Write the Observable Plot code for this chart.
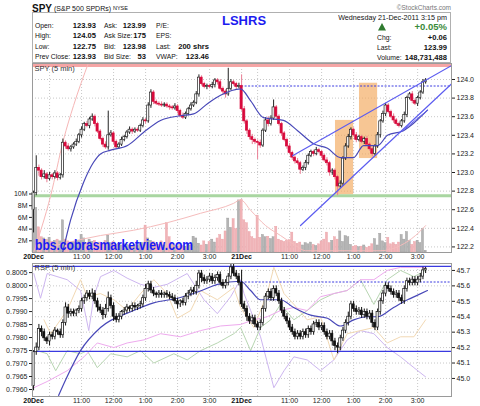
<!DOCTYPE html>
<html><head><meta charset="utf-8">
<script src="https://cdn.jsdelivr.net/npm/d3@7"></script>
<script src="https://cdn.jsdelivr.net/npm/@observablehq/plot@0.6"></script>
<style>
body{margin:0;background:#fff;}
#root{position:relative;width:480px;height:406px;overflow:hidden;background:#fff;font-family:"Liberation Sans",Arial,sans-serif;}
#root svg{position:absolute;left:0;}
</style></head><body><div id="root"></div>
<script>
// ---------- data ----------
const tickIdx = [0,18,30,42,54,66,78,96,108,120,132,144];
const tickLbl = ["20Dec","11:00","12:00","1:00","2:00","3:00","21Dec","11:00","12:00","1:00","2:00","3:00"];
const dateIdx = [0,78];
const gridIdx = [6,18,30,42,54,66,78,84,96,108,120,132,144];
const priceTicks = [122.2,122.4,122.6,122.8,123.0,123.2,123.4,123.6,123.8,124.0];
const volTicks = [2,4,6,8,10];
const rspTicks = [45.0,45.1,45.2,45.3,45.4,45.5,45.6,45.7];
const ratioTicks = [0.7960,0.7965,0.7970,0.7975,0.7980,0.7985,0.7990,0.7995,0.8000,0.8005];

const spyFirstOpen = 122.60;
const spyClose = [
122.78,123.05,123.02,122.95,122.98,122.93,122.97,122.95,122.99,122.94,
122.97,123.32,123.28,123.25,123.27,123.30,123.33,123.40,123.46,123.52,
123.50,123.57,123.60,123.52,123.44,123.36,123.30,123.27,123.40,123.42,
123.33,123.27,123.30,123.35,123.38,123.43,123.46,123.44,123.46,123.45,
123.50,123.56,123.55,123.72,123.86,123.76,123.74,123.73,123.72,123.73,
123.71,123.70,123.69,123.71,123.66,123.61,123.59,123.63,123.68,123.72,
123.75,123.84,124.02,123.95,123.92,123.93,123.92,123.94,123.99,123.97,
123.90,123.87,123.84,123.90,123.97,123.95,123.92,123.93,
123.68,123.55,123.45,123.38,123.35,123.33,123.32,123.29,123.45,123.56,
123.52,123.58,123.70,123.60,123.52,123.42,123.35,123.28,123.21,123.16,
123.12,123.10,123.03,123.05,123.10,123.18,123.22,123.20,123.24,123.22,
123.18,123.13,123.10,123.00,123.02,122.95,122.85,122.88,123.15,123.28,
123.38,123.46,123.40,123.35,123.38,123.33,123.36,123.30,123.25,123.20,
123.28,123.40,123.55,123.63,123.72,123.65,123.60,123.56,123.52,123.50,
123.55,123.62,123.80,123.84,123.77,123.74,123.80,123.86,123.97,123.99];
const spyWickUp = [
2,13,3,2,4,2,3,2,3,2, 2,4,2,3,2,2,3,2,3,2, 3,2,3,2,2,2,2,3,26,3, 2,2,2,3,2,2,3,2,2,2,
2,3,2,3,3,2,2,2,3,2, 2,2,2,3,2,2,3,2,2,3, 2,3,3,2,2,2,2,3,2,2, 3,2,2,22,3,2,2,3,
12,3,2,2,3,2,2,3,2,3, 4,3,8,2,2,2,2,2,3,2, 2,3,2,2,3,2,2,2,3,2, 2,2,3,2,2,2,2,3,2,3,
3,2,2,3,2,2,2,3,2,2, 2,3,2,3,2,2,2,3,2,2, 2,3,2,2,3,2,2,2,3,2];
const spyWickDn = [
25,3,6,3,2,4,2,3,2,3, 2,3,3,2,3,2,2,2,3,2, 2,3,2,3,2,2,3,2,3,2, 3,2,2,2,2,2,2,3,2,2,
2,2,3,2,3,3,2,2,2,2, 2,3,2,2,3,2,2,2,2,2, 2,2,3,2,2,3,2,2,3,3, 2,3,4,2,2,2,3,2,
2,3,4,3,5,3,18,3,2,2, 3,2,2,3,2,3,2,3,2,3, 3,2,5,2,3,2,2,3,2,2, 3,2,3,4,3,3,10,2,3,2,
2,3,2,3,2,2,3,2,2,3, 2,2,3,2,3,2,2,3,2,2, 2,2,3,2,3,2,3,2,2,2];
const spyVolume = [
9.5,7.6,4.3,2.6,2.4,2.2,2.5,1.8,2.0,2.2, 1.9,5.5,2.2,1.9,1.6,1.8,1.7,2.0,3.0,2.4,
1.6,2.2,1.8,2.0,1.5,1.7,1.4,2.0,2.9,1.6, 1.8,1.3,1.5,1.2,1.4,1.3,1.2,1.0,1.3,1.1,
1.4,1.6,4.6,2.4,2.0,1.8,1.5,1.3,1.9,1.2, 5.0,2.6,1.4,1.2,1.0,1.3,1.1,1.0,1.4,1.2,
2.7,2.4,1.5,1.2,1.9,1.3,1.8,2.2,1.7,2.4, 3.0,2.2,3.6,5.8,4.2,5.7,4.0,8.9,
9.0,5.5,5.0,3.5,2.6,2.3,6.3,2.5,3.0,2.6, 2.7,2.3,2.6,4.4,2.2,2.0,1.8,2.0,2.1,3.4,
1.8,1.5,1.7,1.2,1.6,1.4,1.7,1.3,1.1,1.4, 1.9,2.2,3.4,1.6,2.0,2.6,2.2,3.6,1.8,2.8,
2.6,1.3,1.0,1.1,0.9,1.0,1.2,0.8,1.0,1.4, 2.3,1.2,3.2,1.9,1.6,2.5,1.4,1.6,1.3,1.7,
3.0,2.2,3.5,2.0,1.3,1.8,2.0,1.6,4.0,0.3];
const spyMA = [[10.9,122.14],[13.9,122.49],[18.7,122.89],[22.5,123.11],[25.1,123.20],[28.9,123.24],[35.2,123.29],[41.2,123.43],[47.6,123.56],[55.1,123.61],[60,123.63],[65.2,123.74],[70.1,123.83],[77.6,123.90],[81.4,123.77],[86.2,123.59],[93.7,123.56],[99,123.45],[105,123.31],[110.2,123.26],[115.1,123.16],[120,123.16],[123.7,123.29],[129,123.29],[132.7,123.40],[138.7,123.45],[142.5,123.53],[147.7,123.67]];
const pinkOverlay = [[0,122.14],[6.4,122.75],[11.2,123.35],[15,123.72],[20.6,124.18]];
const volOverlay = [[5.2,0.85],[12.7,1.7],[25.1,2.9],[37.5,3.8],[50.2,5.1],[62.6,6.7],[75,8.4],[77.6,9.0],[81.4,7.2],[87,4.6],[92.6,2.9],[98.2,1.2],[102,0.3],[130,0.3],[137.6,1.2],[143.2,2.9],[147,4.6]];
const trendUpper = [[97.1,123.18],[156.7,124.15]];
const trendLower = [[100.1,122.43],[157,123.96]];
const trendShort = [[138.4,123.45],[147.7,123.67]];
const boxes = [{x1:113.2,x2:120,y1:122.76,y2:123.56},{x1:122.2,x2:129,y1:123.15,y2:123.96}];
const spyHighLine = 124.15, spyLowLine = 122.75, spyPrevClose = 123.93;

const rspFirstOpen = 44.95;
const rspClose = [
45.17,45.20,45.32,45.30,45.26,45.24,45.28,45.27,45.31,45.30,
45.28,45.36,45.46,45.42,45.43,45.42,45.44,45.45,45.50,45.52,
45.55,45.53,45.55,45.50,45.46,45.44,45.41,45.45,45.52,45.47,
45.40,45.38,45.40,45.43,45.44,45.46,45.45,45.47,45.46,45.47,
45.48,45.52,45.58,45.61,45.57,45.55,45.54,45.55,45.54,45.55,
45.54,45.53,45.52,45.50,45.48,45.50,45.49,45.53,45.55,45.57,
45.56,45.60,45.68,45.65,45.63,45.64,45.66,45.63,45.65,45.67,
45.62,45.60,45.62,45.66,45.72,45.68,45.66,45.62,
45.48,45.45,45.40,45.37,45.39,45.35,45.33,45.36,45.45,45.53,
45.56,45.52,45.58,45.55,45.50,45.44,45.40,45.37,45.33,45.30,
45.27,45.29,45.27,45.30,45.28,45.32,45.30,45.35,45.36,45.33,
45.34,45.30,45.27,45.29,45.24,45.21,45.20,45.26,45.31,45.36,
45.40,45.48,45.45,45.43,45.44,45.41,45.43,45.40,45.42,45.36,
45.33,45.43,45.50,45.55,45.60,45.58,45.56,45.54,45.55,45.52,
45.50,45.58,45.63,45.62,45.64,45.62,45.64,45.66,45.70,45.71];
const rspWickUp = [
1,3,3,2,2,1,2,2,2,1, 2,2,3,2,2,2,1,2,2,2, 2,2,3,2,2,2,2,3,4,2, 2,2,2,1,2,2,1,2,2,1,
2,2,3,2,2,2,1,2,2,1, 2,2,2,2,2,1,2,2,2,2, 2,3,2,2,2,2,2,2,2,2, 2,2,2,2,2,2,2,2,
8,2,2,2,2,2,2,2,2,2, 2,2,2,2,2,2,2,2,2,2, 2,2,2,2,2,2,2,2,2,2, 2,2,2,2,2,2,2,2,2,2,
3,2,2,2,2,2,2,2,2,2, 2,2,2,2,2,2,2,2,2,2, 2,2,2,2,2,2,2,2,2,1];
const rspWickDn = [
3,2,2,3,2,2,3,2,2,2, 2,2,2,3,2,2,2,2,2,2, 2,2,2,2,3,2,3,2,2,2, 3,2,2,2,2,2,2,2,2,2,
2,2,2,2,2,2,2,2,2,2, 2,2,2,2,3,2,2,2,2,2, 2,2,2,3,2,2,2,2,2,2, 2,2,2,2,2,2,2,2,
2,2,3,2,2,2,2,2,2,2, 2,2,2,2,2,2,2,2,2,2, 2,2,2,2,2,2,2,2,2,2, 2,2,2,2,3,3,4,2,2,2,
2,2,2,2,2,2,2,2,2,3, 2,2,2,2,2,2,2,2,2,2, 2,2,2,2,2,2,2,2,2,2];
const rspMA = [[9.4,44.89],[12,44.99],[17.6,45.18],[25.1,45.33],[37.5,45.44],[45,45.49],[54,45.52],[61.5,45.56],[69,45.61],[77.6,45.63],[81.4,45.57],[85.1,45.51],[92.6,45.51],[97.5,45.46],[103.9,45.41],[110.2,45.39],[115.1,45.34],[120,45.38],[125.2,45.40],[129,45.40],[135,45.46],[140.2,45.51],[144,45.54],[147.7,45.57]];
const ovPurple = [[0.1,45.68],[2.6,45.52],[5.1,45.68],[12.6,45.64],[17.6,45.57],[20.7,45.31],[22.6,45.53],[25.1,45.66],[30.1,45.70],[35.1,45.65],[40.1,45.61],[45.1,45.59],[50.1,45.61],[57.6,45.68],[63.9,45.51],[68.9,45.42],[73.9,45.53],[77.6,45.64],[78.9,45.55],[81.4,45.44],[85.1,45.27],[90.1,44.94],[93.9,45.05],[97.6,45.14],[102.6,45.12],[107.6,45.05],[112.6,45.12],[117.6,45.25],[122.6,45.31],[127.6,45.29],[132.6,45.20],[137.6,45.14],[142.6,45.07],[147,45.01]];
const ovOrange = [[3.9,45.38],[6.4,45.29],[12.6,45.44],[17.6,45.64],[20.1,45.53],[25.1,45.55],[30.1,45.51],[35.1,45.44],[40.1,45.55],[45.1,45.64],[50.1,45.55],[53.9,45.39],[58.9,45.44],[62.6,45.57],[68.9,45.51],[75.1,45.59],[77.6,45.46],[82.6,45.33],[87.6,45.55],[90.1,45.72],[93.9,45.55],[97.6,45.48],[102.6,45.38],[107.6,45.40],[112.6,45.12],[117.6,45.29],[122.6,45.31],[127.6,45.33],[132.6,45.23],[137.6,45.27],[142.6,45.27],[147,45.38]];
const ovGreen = [[1.4,45.18],[5.1,45.16],[8.3,45.05],[12.6,45.18],[17.6,45.16],[20.1,45.18],[23.9,45.07],[28.9,45.16],[35.1,45.14],[40.1,45.18],[45.1,45.10],[52.6,45.16],[57.6,45.12],[62.6,45.18],[68.9,45.23],[75.1,45.29],[77.6,45.33],[81.4,45.18],[85.1,45.33],[88.9,45.38],[92.6,45.48],[97.6,45.38],[102.6,45.44],[107.6,45.51],[112.6,45.55],[117.6,45.57],[122.6,45.64],[127.6,45.48],[132.6,45.64],[137.6,45.70],[142.6,45.66],[147,45.70]];
const ovMagenta = [[0.1,44.94],[5.1,44.98],[12.6,45.05],[18.9,45.14],[23.9,45.23],[30.1,45.20],[35.1,45.23],[41.4,45.25],[47.6,45.29],[55.1,45.27],[62.6,45.31],[70.1,45.34],[77.6,45.35],[82.6,45.38],[87.6,45.40],[92.6,45.44],[97.6,45.46],[102.6,45.44],[107.6,45.53],[112.6,45.55],[117.6,45.57],[122.6,45.64],[127.6,45.64],[132.6,45.70],[137.6,45.72],[142.6,45.72],[147,45.72]];
const rspTopLine = 45.726, rspLowLine = 45.175, rspPrevClose = 45.625;

// ---------- build ----------
const root = document.getElementById("root");
const FONT = "Liberation Sans, Arial, sans-serif";
function bars(closes, firstOpen, wu, wl, vol) {
  return closes.map((c, i) => {
    const o = i === 0 ? firstOpen : closes[i - 1];
    return {i, o, c, h: Math.max(o, c) + wu[i] / 100, l: Math.min(o, c) - wl[i] / 100, up: c >= o, v: vol ? vol[i] : 0};
  });
}
const spy = bars(spyClose, spyFirstOpen, spyWickUp, spyWickDn, spyVolume);
const rsp = bars(rspClose, rspFirstOpen, rspWickUp, rspWickDn);

const X = {domain: [-0.4, 156.7], axis: null};
const base = {width: 480, marginLeft: 32, marginRight: 29, marginTop: 0, color: {type: "identity"}};
const st = {background: "transparent", fontFamily: FONT, fontSize: "7px", color: "#222", overflow: "visible"};
function place(svg, top) { svg.style.top = top + "px"; root.appendChild(svg); }
const gridStyle = {stroke: "#c8c8c8", strokeDasharray: "1,2"};
const px = d => d[0], py = d => d[1];

// header
const hdr = d3.create("svg").attr("width", 480).attr("height", 63).style("top", "0px");
function tx(s, x, y, o = {}) {
  hdr.append("text").text(s).attr("x", x).attr("y", y).attr("dominant-baseline", "central")
    .attr("font-family", FONT).attr("font-size", o.size || 6.8).attr("font-weight", o.w || "normal")
    .attr("text-anchor", o.a || "start").attr("fill", o.f || "#111");
}
hdr.append("rect").attr("x", 32.5).attr("y", 12.5).attr("width", 418).attr("height", 50).attr("fill", "none").attr("stroke", "#b0b0b0");
const t1 = hdr.append("text").attr("x", 32).attr("y", 7.5).attr("dominant-baseline", "central").attr("font-family", FONT).attr("fill", "#111");
t1.append("tspan").text("SPY").attr("font-size", 10).attr("font-weight", "bold");
t1.append("tspan").text(" (S&P 500 SPDRs) ").attr("font-size", 7);
t1.append("tspan").text("NYSE").attr("font-size", 5.5);
tx("©StockCharts.com", 451, 7, {size: 6.5, a: "end", f: "#777"});
const rowsY = [25, 35.5, 46, 56.5];
const lab1 = ["Open:", "High:", "Low:", "Prev Close:"], val1 = ["123.93", "124.05", "122.75", "123.93"];
const lab2 = ["Ask:", "Ask Size:", "Bid:", "Bid Size:"], val2 = ["123.99", "175", "123.98", "53"];
const lab3 = ["P/E:", "EPS:", "Last:", "VWAP:"], val3 = ["", "", "200 shrs", "123.46"];
rowsY.forEach((y, k) => {
  tx(lab1[k], 35, y); tx(val1[k], 96, y, {w: "bold", size: 7.6, a: "end"});
  tx(lab2[k], 104, y); tx(val2[k], 146, y, {w: "bold", size: 7.6, a: "end"});
  tx(lab3[k], 156, y); tx(val3[k], 209, y, {w: "bold", size: 7.6, a: "end"});
});
tx("LSHRS", 222, 20.5, {size: 13, w: "bold", f: "#1c1cf0"});
tx("Wednesday  21-Dec-2011  3:15 pm", 447, 17, {size: 7.2, a: "end"});
hdr.append("path").attr("d", "M378,30.5L386,30.5L382,23Z").attr("fill", "#2f7a2f");
tx("+0.05%", 447, 26.5, {size: 9.5, w: "bold", a: "end", f: "#3a8a3a"});
tx("Chg:", 377, 37, {}); tx("+0.06", 447, 37, {w: "bold", size: 7.6, a: "end"});
tx("Last:", 377, 47, {}); tx("123.99", 447, 47, {w: "bold", size: 7.6, a: "end"});
tx("Volume:", 377, 57, {}); tx("148,731,488", 447, 57, {w: "bold", size: 7.6, a: "end"});
root.appendChild(hdr.node());

// price panel: layer A (grid + boxes)
const PH = 189, PD = [122.14, 124.172];
place(Plot.plot({...base, height: PH, marginBottom: 0, x: X, y: {domain: PD, axis: null},
  style: {...st, background: "white"},
  marks: [
    Plot.ruleY(priceTicks, gridStyle),
    Plot.ruleX(gridIdx, gridStyle),
    Plot.rect(boxes, {x1: "x1", x2: "x2", y1: "y1", y2: "y2", fill: "#f3a75a", fillOpacity: 0.65})
  ]}), 63);

// layer B (volume)
place(Plot.plot({...base, height: PH, marginBottom: 0, x: X,
  y: {domain: [0, 32.3], axis: "left", ticks: volTicks, tickFormat: d => d + "M", tickSize: 3, tickPadding: 2, label: null},
  style: st,
  marks: [
    Plot.rect(spy, {x1: d => d.i - 0.4, x2: d => d.i + 0.4, y1: 0, y2: "v", fill: d => d.up ? "#b4b4b4" : "#f0b4b8", stroke: d => d.up ? "#9a9a9a" : "#eaa0a6", strokeWidth: 0.4}),
    Plot.line(volOverlay, {x: px, y: py, stroke: "#f5bcbc", strokeWidth: 1, curve: "monotone-x", clip: true})
  ]}), 63);

// layer C (price marks)
place(Plot.plot({...base, height: PH + 14, marginBottom: 14, x: X,
  y: {domain: PD, axis: "right", ticks: priceTicks, tickFormat: d3.format(".1f"), tickSize: 3, tickPadding: 2, label: null},
  style: st,
  marks: [
    Plot.ruleY([spyHighLine], {stroke: "#f5a5a5", strokeWidth: 3}),
    Plot.ruleY([spyLowLine], {stroke: "#a9d6a1", strokeWidth: 3}),
    Plot.ruleY([spyPrevClose], {x1: 78, x2: 156.7, stroke: "#3a3ae0", strokeDasharray: "2,1.5"}),
    Plot.line(pinkOverlay, {x: px, y: py, stroke: "#f6b6b6", strokeWidth: 1, curve: "monotone-x", clip: true}),
    Plot.ruleX(spy, {x: "i", y1: "l", y2: "h", stroke: d => d.up ? "#222" : "#ea7f95", strokeWidth: 1}),
    Plot.rect(spy, {x1: d => d.i - 0.4, x2: d => d.i + 0.4, y1: "o", y2: "c", fill: d => d.up ? "#fff" : "#d80a3c", stroke: d => d.up ? "#222" : "#d80a3c", strokeWidth: 0.7}),
    Plot.line(spyMA, {x: px, y: py, stroke: "#4848b8", strokeWidth: 1.2, curve: "monotone-x", clip: true}),
    Plot.line(trendUpper, {x: px, y: py, stroke: "#5c5cf0", strokeWidth: 1.2, clip: true}),
    Plot.line(trendLower, {x: px, y: py, stroke: "#5c5cf0", strokeWidth: 1.2, clip: true}),
    Plot.line(trendShort, {x: px, y: py, stroke: "#5c5cf0", strokeWidth: 1, clip: true}),
    Plot.frame({stroke: "#9a9a9a"}),
    Plot.text(["SPY (5 min)"], {frameAnchor: "top-left", dx: 2, dy: 2, fontSize: 7.5, fill: "#333"}),
    Plot.text(tickIdx.filter(d => !dateIdx.includes(d)), {x: d => d, frameAnchor: "bottom", dy: 6.5, text: d => tickLbl[tickIdx.indexOf(d)], fontSize: 7, fill: "#222"}),
    Plot.text(dateIdx, {x: d => d, frameAnchor: "bottom", dy: 6.5, text: d => tickLbl[tickIdx.indexOf(d)], fontSize: 7, fontWeight: "bold", fill: "#111"})
  ]}), 63);

// watermark
const wm = d3.create("svg").attr("width", 480).attr("height", 24).style("top", "232px");
wm.append("text").text("bbs.cobrasmarketview.com").attr("x", 35).attr("y", 17.5).attr("font-family", FONT)
  .attr("font-size", 15.5).attr("font-weight", "bold").attr("fill", "#1a1af5").attr("textLength", 158).attr("lengthAdjust", "spacingAndGlyphs");
root.appendChild(wm.node());

// RSP panel
const RH = 133, RD = [44.883, 45.745];
place(Plot.plot({...base, height: RH + 12, marginBottom: 12, x: X,
  y: {domain: RD, axis: "right", ticks: rspTicks, tickFormat: d3.format(".1f"), tickSize: 3, tickPadding: 2, label: null},
  style: {...st, background: "white"},
  marks: [
    Plot.ruleY(rspTicks, gridStyle),
    Plot.ruleX(gridIdx, gridStyle),
    Plot.line(ovPurple, {x: px, y: py, stroke: "#cdb6f0", strokeWidth: 1, clip: true}),
    Plot.line(ovOrange, {x: px, y: py, stroke: "#f2d9b4", strokeWidth: 1, clip: true}),
    Plot.line(ovGreen, {x: px, y: py, stroke: "#b8d6b2", strokeWidth: 1, clip: true}),
    Plot.line(ovMagenta, {x: px, y: py, stroke: "#eeaaee", strokeWidth: 1, clip: true}),
    Plot.ruleY([rspTopLine, rspLowLine], {stroke: "#3a3ae0", strokeWidth: 1.3}),
    Plot.ruleY([rspPrevClose], {x1: 78, x2: 156.7, stroke: "#3a3ae0", strokeDasharray: "2,1.5"}),
    Plot.line(rspMA, {x: px, y: py, stroke: "#4848b8", strokeWidth: 1.2, curve: "monotone-x", clip: true}),
    Plot.ruleX(rsp, {x: "i", y1: "l", y2: "h", stroke: "#111", strokeWidth: 1}),
    Plot.rect(rsp, {x1: d => d.i - 0.4, x2: d => d.i + 0.4, y1: "o", y2: "c", fill: d => d.up ? "#fff" : "#111", stroke: "#111", strokeWidth: 0.7}),
    Plot.frame({stroke: "#9a9a9a"}),
    Plot.text(["RSP (5 min)"], {frameAnchor: "top-left", dx: 2, dy: 1, fontSize: 7.5, fill: "#333"}),
    Plot.text(tickIdx.filter(d => !dateIdx.includes(d)), {x: d => d, frameAnchor: "bottom", dy: 6, text: d => tickLbl[tickIdx.indexOf(d)], fontSize: 7, fill: "#222"}),
    Plot.text(dateIdx, {x: d => d, frameAnchor: "bottom", dy: 6, text: d => tickLbl[tickIdx.indexOf(d)], fontSize: 7, fontWeight: "bold", fill: "#111"})
  ]}), 263);

// RSP left (ratio) axis
place(Plot.plot({...base, height: RH, marginBottom: 0, x: X,
  y: {domain: [0.79573, 0.80085], axis: "left", ticks: ratioTicks, tickFormat: d3.format(".4f"), tickSize: 3, tickPadding: 2, label: null},
  style: st, marks: []}), 263);
</script></body></html>
